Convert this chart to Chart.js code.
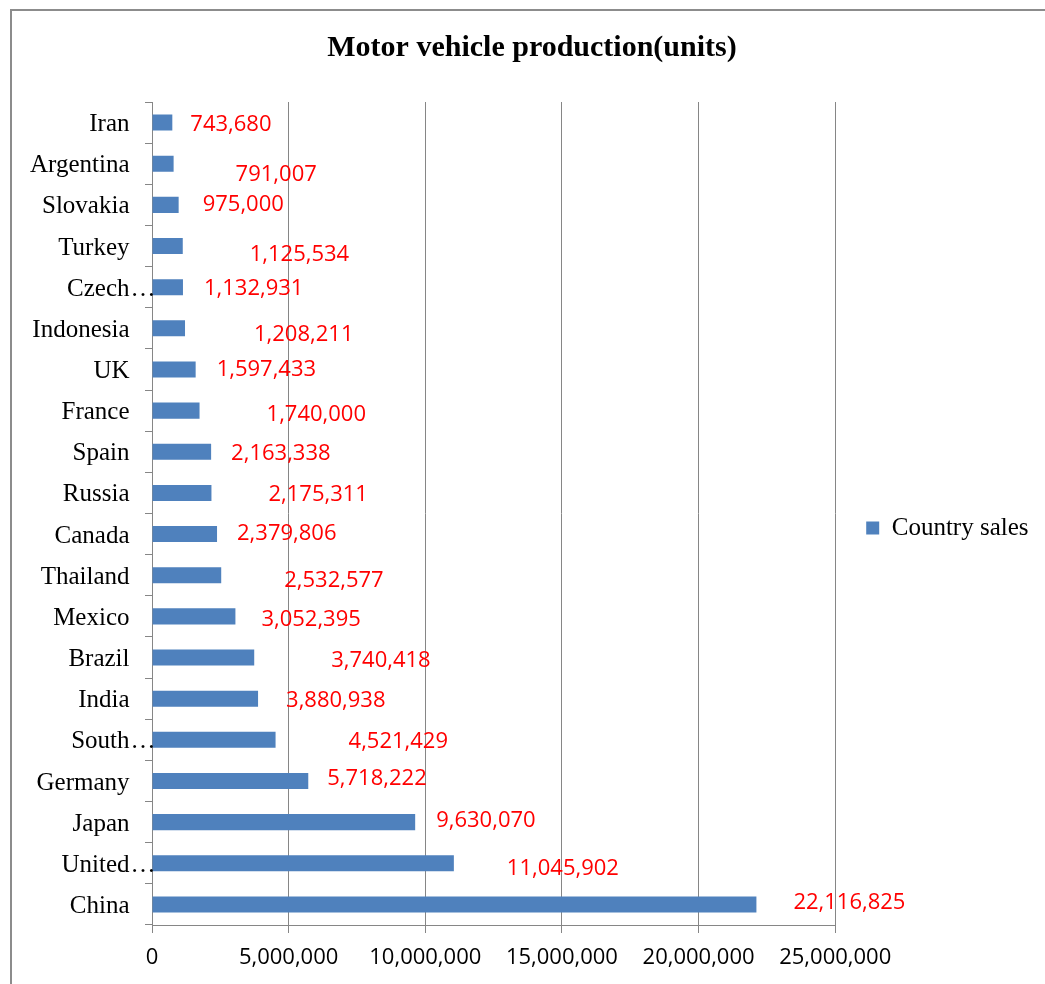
<!DOCTYPE html>
<html><head><meta charset="utf-8">
<script src="https://cdn.jsdelivr.net/npm/chart.js@4.4.1/dist/chart.umd.min.js"></script>
<style>
html,body{margin:0;padding:0;background:#fff;overflow:hidden;}
#wrap{position:relative;width:1045px;height:984px;}
#frame{position:absolute;left:10px;top:9px;width:1200px;height:1200px;border:2px solid #8c8c8c;box-sizing:border-box;pointer-events:none;}
canvas{position:absolute;left:0;top:0;}
</style></head><body>
<div id="wrap"><canvas id="c" width="1045" height="984"></canvas><div id="frame"></div></div>
<script>
const countries = ['Iran','Argentina','Slovakia','Turkey','Czech…','Indonesia','UK','France','Spain','Russia','Canada','Thailand','Mexico','Brazil','India','South…','Germany','Japan','United…','China'];
const production = [743680,791007,975000,1125534,1132931,1208211,1597433,1740000,2163338,2175311,2379806,2532577,3052395,3740418,3880938,4521429,5718222,9630070,11045902,22116825];
const xTicks = [0,5000000,10000000,15000000,20000000,25000000];
const seriesName = 'Country sales';
const chartTitle = 'Motor vehicle production(units)';
// manual label nudges (pixels from bar end), as in the reference
const labelNudgeX = [18,62,24,67,21,69,21,67,20,57,20,63,26,77,28,73,19,21,53,37];
const labelNudgeY = [2,11,0,9,2,6,0,4,2,2,0,6,3,3,2,2,-2,-1,5,-2];

const SERIF = '"Liberation Serif", "Times New Roman", serif';
const SANS = '"Open Sans", sans-serif';

const valueLabels = {
  id:'valueLabels',
  afterDatasetsDraw(chart){
    const ctx = chart.ctx;
    const meta = chart.getDatasetMeta(0);
    ctx.save();
    ctx.font = '22px ' + SANS;
    ctx.fillStyle = '#FF0000';
    ctx.textAlign = 'left';
    ctx.textBaseline = 'middle';
    meta.data.forEach((bar,i)=>{
      ctx.fillText(production[i].toLocaleString('en-US'), bar.x + labelNudgeX[i], bar.y + labelNudgeY[i]);
    });
    ctx.restore();
  }
};

const categoryLabels = {
  id:'categoryLabels',
  afterDraw(chart){
    const ctx = chart.ctx;
    const ys = chart.scales.y;
    const xr = ys.right - 22.5;
    ctx.save();
    ctx.font = '25px ' + SERIF;
    ctx.fillStyle = '#000';
    ctx.textBaseline = 'middle';
    countries.forEach((name,i)=>{
      const y = ys.getPixelForValue(i) + 2;
      let base = name, tail = '';
      if (name.endsWith('…')) { base = name.slice(0,-1); tail = '…'; }
      ctx.textAlign = 'right';
      ctx.fillText(base, xr, y);
      if (tail) { ctx.textAlign = 'left'; ctx.fillText(tail, xr + 1, y); }
    });
    ctx.restore();
  }
};

new Chart(document.getElementById('c'), {
  type:'bar',
  data:{
    labels: countries,
    datasets:[{label: seriesName, data: production, backgroundColor:'#4F81BD', borderWidth:0, barPercentage:0.39, categoryPercentage:1}]
  },
  options:{
    indexAxis:'y',
    responsive:false,
    animation:false,
    layout:{padding:{left:25.5,right:6.5,top:0,bottom:0}},
    plugins:{
      title:{display:true,text:chartTitle,color:'#000',font:{family:SERIF,size:30,weight:'bold'},padding:{top:30,bottom:36}},
      legend:{
        display:true,position:'right',fullSize:false,
        title:{display:true,text:'',font:{size:10},padding:{top:0,bottom:17}},
        labels:{boxWidth:13,boxHeight:13,padding:31,color:'#000',font:{family:SERIF,size:25}}
      },
      tooltip:{enabled:false}
    },
    scales:{
      x:{
        min:0,max:25000000,
        afterBuildTicks:(s)=>{ s.ticks = xTicks.map(v=>({value:v})); },
        grid:{color:'#868686',tickLength:8,lineWidth:1},
        border:{color:'#868686',width:1},
        ticks:{color:'#000',font:{family:SANS,size:22},padding:12,maxRotation:0,autoSkip:false,callback:(v)=>Number(v).toLocaleString('en-US')},
        afterFit:(s)=>{ s.height = 59; }
      },
      y:{
        grid:{drawOnChartArea:false,color:'#868686',tickLength:7},
        border:{color:'#868686',width:1},
        ticks:{display:false},
        afterFit:(s)=>{ s.width = 126.5; }
      }
    }
  },
  plugins:[valueLabels, categoryLabels]
});
</script>
</body></html>
